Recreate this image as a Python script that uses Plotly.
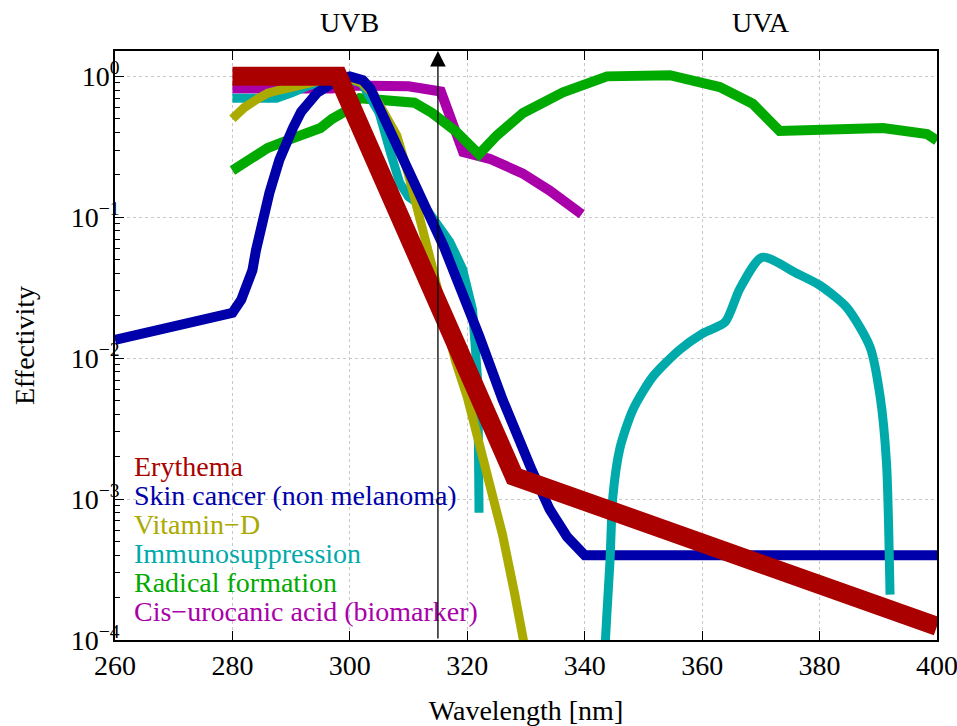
import plotly.graph_objects as go

# ---- action spectra (relative effectivity vs wavelength in nm) ----
ERYTHEMA_WL = [280, 298, 328, 400]
ERYTHEMA = [1.0, 1.0, 1.45e-3, 1.25e-4]

SKIN_WL = [260, 280, 281.5, 282.4, 283.4, 284, 284.6, 285.5, 286.3, 288, 289, 290.3, 291.7,
           293.1, 294.5, 296, 298, 300, 301, 302.2, 303.5, 304.6, 308, 312, 316, 322, 326,
           331, 334, 337, 339, 340, 400]
SKIN = [0.0135, 0.021, 0.026, 0.032, 0.042, 0.058, 0.078, 0.11, 0.149, 0.256, 0.33, 0.43, 0.56,
        0.68, 0.77, 0.84, 0.95, 1.0, 0.99, 0.94, 0.82, 0.65, 0.32, 0.145, 0.062, 0.0145, 0.0051,
        0.0016, 8.5e-4, 5.4e-4, 4.3e-4, 4.0e-4, 4.0e-4]

VITD_WL = [280, 282, 284, 286, 288, 290, 293, 296, 298, 300, 302, 304, 306, 308, 310,
           312, 314, 316, 318, 320, 322, 324, 326, 328, 330]
VITD = [0.5, 0.6, 0.68, 0.76, 0.8, 0.84, 0.9, 0.95, 1.0, 0.97, 0.9, 0.75, 0.55, 0.38, 0.2,
        0.1, 0.045, 0.02, 0.0095, 0.0053, 0.0026, 0.00126, 5.6e-4, 2.2e-4, 8e-5]

IMMUNO_WL_B = [280, 287.5, 290, 293, 296, 299, 302, 305, 307, 308.5, 310, 313, 317,
               319.2, 320.9, 321.6, 321.8, 322]
IMMUNO_B = [0.70, 0.70, 0.76, 0.86, 0.93, 0.97, 0.9, 0.55, 0.28, 0.175, 0.14, 0.115, 0.067,
            0.043, 0.022, 0.0115, 0.0067, 8.0e-4]
IMMUNO_WL_A = [343.0, 343.8, 344.3, 344.8, 346, 348.2, 351.6, 356.2, 360.1, 363.9, 366.4,
               370.2, 376.1, 380, 384.6, 388.6, 390.3, 391.4, 392]
IMMUNO_A = [4e-5, 1.6e-4, 3.6e-4, 1.05e-3, 2.3e-3, 4.3e-3, 7.4e-3, 0.0115, 0.015, 0.018, 0.031,
            0.052, 0.040, 0.033, 0.023, 0.012, 5.4e-3, 1.8e-3, 2.1e-4]

RADICAL_WL = [280, 283, 286, 290, 295, 297, 299.4, 301.7, 305.6, 311, 314, 318, 322, 325,
              329.5, 336.3, 343.8, 354.5, 363, 368.6, 373.2, 380, 390.8, 398.3, 400]
RADICAL = [0.215, 0.26, 0.31, 0.36, 0.43, 0.5, 0.57, 0.70, 0.68, 0.65, 0.55, 0.41, 0.28, 0.38,
           0.55, 0.77, 1.0, 1.02, 0.84, 0.64, 0.41, 0.42, 0.43, 0.39, 0.35]

CIS_WL = [280, 290, 297, 300, 305, 310, 315.5, 319.3, 323.8, 329.4, 334, 339.5]
CIS = [0.82, 0.82, 0.82, 0.86, 0.86, 0.85, 0.78, 0.29, 0.26, 0.205, 0.155, 0.105]

LABELS = ["Erythema", "Skin cancer (non melanoma)", "Vitamin−D",
          "Immunosuppression", "Radical formation", "Cis−urocanic acid (biomarker)"]
COLORS = ["#aa0000", "#0000aa", "#aaaa00", "#00aaaa", "#00aa00", "#aa00aa"]

UV_BOUNDARY = 315          # UVB / UVA border
BAND_NAMES = ["UVB", "UVA"]
BAND_POS = [300, 370]

X_TICKS = list(range(260, 401, 20))
Y_TICKS = [1e-4, 1e-3, 1e-2, 1e-1, 1]
Y_TICKTEXT = ["10<sup>−4</sup>", "10<sup>−3</sup>", "10<sup>−2</sup>", "10<sup>−1</sup>", "10<sup>0</sup>"]

FONT = "Liberation Serif, Times New Roman, serif"
FS = 28

fig = go.Figure()


def add_line(x, y, color, width, shape="linear"):
    fig.add_trace(go.Scatter(x=x, y=y, mode="lines", showlegend=False, hoverinfo="skip",
                             line=dict(color=color, width=width, shape=shape, smoothing=0.7)))


# drawing order: later traces lie on top
add_line(CIS_WL, CIS, COLORS[5], 10)
add_line(RADICAL_WL, RADICAL, COLORS[4], 10)
add_line(IMMUNO_WL_B, IMMUNO_B, COLORS[3], 9)
add_line(VITD_WL, VITD, COLORS[2], 9)
add_line(SKIN_WL, SKIN, COLORS[1], 10)
add_line(IMMUNO_WL_A, IMMUNO_A, COLORS[3], 9, shape="spline")
add_line(ERYTHEMA_WL, ERYTHEMA, COLORS[0], 19)

# text legend in the lower left corner
for i, (lab, col) in enumerate(zip(LABELS, COLORS)):
    fig.add_annotation(text=lab, xref="paper", yref="paper", x=0.021, y=0.294 - i * 0.0492,
                       xanchor="left", yanchor="middle", showarrow=False,
                       font=dict(family=FONT, size=FS, color=col))

# UVB / UVA band names above the plot
for name, pos in zip(BAND_NAMES, BAND_POS):
    fig.add_annotation(text=name, xref="x", yref="paper", x=pos, y=1.0, yshift=29,
                       xanchor="center", yanchor="middle", showarrow=False,
                       font=dict(family=FONT, size=FS, color="black"))

# arrow marking the UVB/UVA border
fig.add_annotation(x=UV_BOUNDARY, y=1.0, xref="x", yref="paper",
                   ax=0, ay=589, axref="pixel", ayref="pixel", text="",
                   showarrow=True, arrowhead=2, arrowsize=2.4, arrowwidth=1.3,
                   arrowcolor="black", standoff=0)

fig.update_layout(
    width=957, height=726,
    margin=dict(l=115, r=20, t=51, b=86),
    paper_bgcolor="white", plot_bgcolor="white",
    font=dict(family=FONT, size=FS, color="black"),
    showlegend=False,
)

fig.update_xaxes(
    range=[260, 400], tickvals=X_TICKS, ticks="inside", ticklen=9, tickwidth=1.2,
    tickcolor="black", showline=True, linecolor="black", linewidth=1.6, mirror="ticks",
    showgrid=True, gridcolor="#c8c8c8", gridwidth=1, griddash="dot", zeroline=False,
    tickfont=dict(family=FONT, size=FS), ticklabeloverflow="allow", automargin=False,
    title=dict(text="Wavelength [nm]", font=dict(family=FONT, size=FS), standoff=30),
)

fig.update_yaxes(
    type="log", range=[-4, 0.18], tickvals=Y_TICKS, ticktext=Y_TICKTEXT,
    ticks="inside", ticklen=9, tickwidth=1.2, tickcolor="black",
    showline=True, linecolor="black", linewidth=1.6, mirror=True,
    showgrid=True, gridcolor="#c8c8c8", gridwidth=1, griddash="dot", zeroline=False,
    minor=dict(ticks="inside", ticklen=5, tickwidth=1, tickcolor="black", showgrid=False,
               tickvals=[k * 10 ** e for e in range(-4, 0) for k in range(2, 10)]),
    tickfont=dict(family=FONT, size=FS), ticklabelstandoff=-12, automargin=False,
    title=dict(text="Effectivity", font=dict(family=FONT, size=FS), standoff=28),
)

fig.write_html("out.html")
